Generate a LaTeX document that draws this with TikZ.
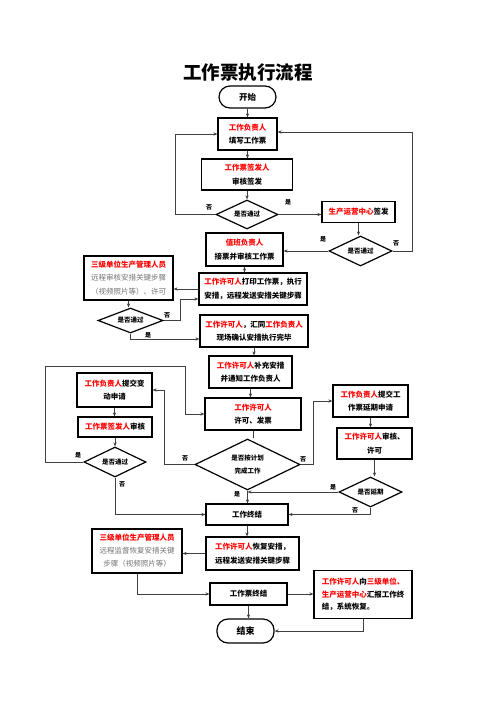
\documentclass[tikz,border=0pt]{standalone}
\usepackage{fontspec}
\setmainfont{Noto Sans CJK SC}
\usetikzlibrary{shapes.geometric,arrows.meta}
\newcommand{\hong}[1]{\textcolor{red}{#1}}
\newcommand{\hui}[1]{{\mdseries\color{black!55}#1}}

\begin{document}
\begin{tikzpicture}[x=1pt, y=-1pt, >={Stealth[length=4pt,width=3.2pt]},
  font=\fontsize{7.5}{13.5}\selectfont\bfseries,
  kuang/.style={draw, line width=1.2pt, align=center, inner sep=1pt},
  panduan/.style={draw, line width=1.2pt, diamond, aspect=2, inner sep=0pt, align=center, font=\fontsize{6.5}{13}\selectfont\bfseries},
  duandian/.style={draw, line width=1.2pt, rounded corners=11pt, minimum width=57, inner sep=1pt},
  xian/.style={draw=black!75, line width=0.8pt},
  zi/.style={inner sep=0pt, font=\fontsize{6}{6}\selectfont\bfseries}]
  \useasboundingbox (0,0) rectangle (496,702);
  % 拐点
  \path
  (175,214.5) coordinate (A1)
  (412,251) coordinate (A2)
  (180,320.5) coordinate (A3)
  (164,464.5) coordinate (A4)
  (45.7,366) coordinate (A5)
  (185,366) coordinate (A6)
  (313,464.5) coordinate (A7);
  % 标题
  \node[font=\fontsize{18.5}{20}\selectfont\bfseries] (biaoti) at (248,73) {工作票执行流程};
  % 流程框
  \node[duandian, minimum height=22, font=\fontsize{8.5}{10}\selectfont\bfseries] (start) at (247.5,97) {开始};
  \node[kuang, minimum width=59, minimum height=32] (n1) at (247.5,134) {\hong{工作负责人}\\填写工作票};
  \node[kuang, minimum width=91, minimum height=31] (n2) at (247,174.5) {\hong{工作票签发人}\\审核签发};
  \node[panduan, minimum width=62, minimum height=29] (d1) at (247,214.5) {是否通过};
  \node[kuang, minimum width=73, minimum height=21] (scc) at (358.5,212) {\hong{生产运营中心}签发};
  \node[panduan, minimum width=63, minimum height=30] (d2) at (360.5,251) {是否通过};
  \node[kuang, minimum width=77, minimum height=33] (duty) at (244.5,249.5) {\hong{值班负责人}\\接票并审核工作票};
  \node[kuang, minimum width=89, minimum height=44] (rem1) at (128.5,278) {\hong{三级单位生产管理人员}\\\hui{远程审核安措关键步骤}\\\hui{（视频照片等）、许可}};
  \node[kuang, minimum width=108, minimum height=32] (print) at (253,289) {\hong{工作许可人}打印工作票，执行\\安措，远程发送安措关键步骤};
  \node[panduan, minimum width=65, minimum height=25] (d3) at (130.5,320.5) {是否通过};
  \node[kuang, minimum width=108, minimum height=32] (join) at (254,331) {\hong{工作许可人}，汇同\hong{工作负责人}\\现场确认安措执行完毕};
  \node[kuang, minimum width=83, minimum height=32] (add) at (250.5,372) {\hong{工作许可人}补充安措\\并通知工作负责人};
  \node[kuang, minimum width=96, minimum height=32] (issue) at (253,414) {\hong{工作许可人}\\许可、发票};
  \node[kuang, minimum width=75, minimum height=34] (chg) at (114.5,390) {\hong{工作负责人}提交变\\动申请};
  \node[kuang, minimum width=74, minimum height=20] (sign2) at (115,427) {\hong{工作票签发人}审核};
  \node[panduan, minimum width=62, minimum height=30] (d5) at (115,462) {是否通过};
  \node[panduan, minimum width=105, minimum height=51] (d4) at (247.5,464.5) {是否按计划\\完成工作};
  \node[kuang, minimum width=75, minimum height=32] (ext) at (370.5,401) {\hong{工作负责人}提交工\\作票延期申请};
  \node[kuang, minimum width=75, minimum height=31] (ext2) at (374.5,443.5) {\hong{工作许可人}审核、\\许可};
  \node[panduan, minimum width=63, minimum height=30] (d6) at (370.5,492) {是否延期};
  \node[kuang, minimum width=82, minimum height=21] (end1) at (247,514.5) {工作终结};
  \node[kuang, minimum width=93, minimum height=33] (rest) at (252.5,553.5) {\hong{工作许可人}恢复安措，\\远程发送安措关键步骤};
  \node[kuang, minimum width=90, minimum height=44, font=\fontsize{7.5}{13}\selectfont\bfseries] (rem2) at (137,551) {\hong{三级单位生产管理人员}\\\hui{远程监督恢复安措关键}\\\hui{步骤（视频照片等）}};
  \node[kuang, minimum width=77, minimum height=22] (fin) at (248.5,594) {工作票终结};
  \node[kuang, align=left, minimum width=98, minimum height=48, font=\fontsize{7.5}{12.5}\selectfont\bfseries] (rep) at (363,594.5) {\hong{工作许可人}向\hong{三级单位、}\\\hong{生产运营中心}汇报工作终\\结，系统恢复。};
  \node[duandian, minimum height=24, font=\fontsize{9}{10}\selectfont\bfseries] (stop) at (245.5,631) {结束};
  % 竖直箭头
  \foreach \a/\b in {start/n1, n1/n2, n2/d1, scc/d2, duty/print, rem1/d3, join/add, add/issue, d4/end1, chg/sign2, sign2/d5, ext/ext2, ext2/d6, end1/rest, fin/stop}
  \draw[xian,->] (\a.south) -- (\a.south |- \b.north);
  \draw[xian] (issue.south) -- (issue.south |- d4.north);
  % 水平箭头
  \draw[xian,->] (d1.east) -- (d1.east -| scc.west);
  \draw[xian,->] (d2.west) -- (d2.west -| duty.east);
  \draw[xian,->] (print.west) -- (print.west -| rem1.east);
  \draw[xian,->] (rest.west) -- (rest.west -| rem2.east);
  \draw[xian,->] (fin.east) -- (fin.east -| rep.west);
  \draw[xian,->] (d6.west) -- (d6.west -| d4.south);
  % 回路与折线
  \draw[xian,->] (d1.west) -- (A1) |- (n1.west);
  \draw[xian,->] (d2.east) -- (A2) |- ([yshift=2pt]n1.east);
  \draw[xian,->] (d3.east) -- (A3) |- ([yshift=-10pt]print.west);
  \draw[xian,->] (d3.south) |- ([yshift=-8pt]join.west);
  \draw[xian,->] (d4.west) -- (A4) |- (chg.east);
  \draw[xian,->] (d5.west) -| (A5) -- (A6) |- (issue.west);
  \draw[xian,->] (d5.south) |- (end1.west);
  \draw[xian,->] (d4.east) -- (A7) |- (ext.west);
  \draw[xian,->] (d6.south) |- (end1.east);
  \draw[xian,->] (rem2.south) |- (fin.west);
  \draw[xian,->] (rep.south) |- (stop.east);
  % 是否标注
  \foreach \m/\t/\x/\y in {f1/否/209/207, s1/是/288/202, s2/是/323/239, f2/否/396/243, f3/否/167/315, s3/是/148/335, f4/否/185/458, s4/是/237/494, f5/否/303/459, s5/是/78/455, f6/否/122/484, s6/是/333/487, f7/否/355/510}
  \node[zi] (\m) at (\x,\y) {\t};
\end{tikzpicture}
\end{document}
